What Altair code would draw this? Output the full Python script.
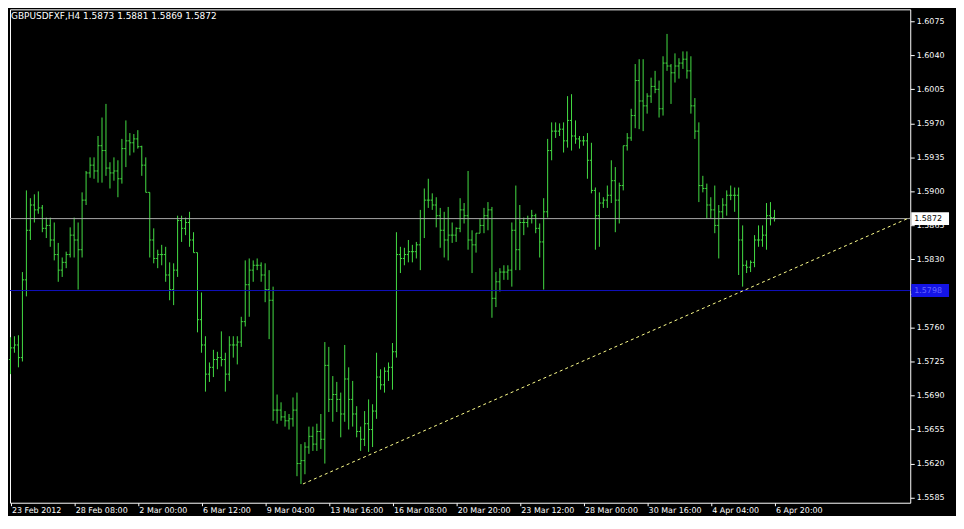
import altair as alt
import pandas as pd

symbol_title = "GBPUSDFXF,H4  1.5873 1.5881 1.5869 1.5872"
date_labels = ["23 Feb 2012", "28 Feb 08:00", "2 Mar 00:00", "6 Mar 12:00", "9 Mar 04:00",
               "13 Mar 16:00", "16 Mar 08:00", "20 Mar 20:00", "23 Mar 12:00", "28 Mar 00:00",
               "30 Mar 16:00", "4 Apr 04:00", "6 Apr 20:00"]
label_bars = [0, 16, 32, 48, 64, 80, 96, 112, 128, 144, 160, 176, 192]
price_ticks = [1.5585, 1.5620, 1.5655, 1.5690, 1.5725, 1.5760, 1.5795, 1.5830, 1.5865,
               1.5900, 1.5935, 1.5970, 1.6005, 1.6040, 1.6075]

open_ = [1.5727, 1.5739, 1.5742, 1.5729, 1.5809, 1.5860, 1.5886, 1.5881, 1.5883, 1.5862,
         1.5865, 1.5850, 1.5835, 1.5819, 1.5827, 1.5835, 1.5855, 1.5850, 1.5840, 1.5891,
         1.5919, 1.5927, 1.5921, 1.5947, 1.5942, 1.5924, 1.5919, 1.5921, 1.5913, 1.5944,
         1.5952, 1.5950, 1.5954, 1.5946, 1.5927, 1.5899, 1.5850, 1.5831, 1.5835, 1.5835,
         1.5814, 1.5799, 1.5819, 1.5870, 1.5862, 1.5868, 1.5850, 1.5837, 1.5768, 1.5742,
         1.5712, 1.5719, 1.5727, 1.5729, 1.5727, 1.5712, 1.5742, 1.5742, 1.5745, 1.5766,
         1.5804, 1.5819, 1.5824, 1.5824, 1.5814, 1.5799, 1.5788, 1.5675, 1.5675, 1.5668,
         1.5664, 1.5666, 1.5675, 1.5620, 1.5623, 1.5637, 1.5648, 1.5640, 1.5653, 1.5645,
         1.5721, 1.5686, 1.5691, 1.5686, 1.5671, 1.5707, 1.5686, 1.5671, 1.5653, 1.5645,
         1.5661, 1.5655, 1.5674, 1.5709, 1.5701, 1.5715, 1.5719, 1.5735, 1.5835, 1.5831,
         1.5835, 1.5838, 1.5838, 1.5845, 1.5872, 1.5891, 1.5891, 1.5886, 1.5875, 1.5860,
         1.5850, 1.5855, 1.5855, 1.5862, 1.5881, 1.5875, 1.5850, 1.5845, 1.5857, 1.5865,
         1.5875, 1.5881, 1.5790, 1.5807, 1.5817, 1.5817, 1.5819, 1.5860, 1.5840, 1.5868,
         1.5868, 1.5872, 1.5875, 1.5862, 1.5848, 1.5879, 1.5942, 1.5962, 1.5962, 1.5964,
         1.5952, 1.5973, 1.5957, 1.5954, 1.5952, 1.5952, 1.5932, 1.5901, 1.5875, 1.5888,
         1.5891, 1.5896, 1.5911, 1.5891, 1.5906, 1.5947, 1.5955, 1.5978, 1.6014, 1.5993,
         1.5988, 1.5998, 1.6008, 1.6005, 1.5985, 1.6032, 1.6029, 1.6022, 1.6029, 1.6032,
         1.6036, 1.6024, 1.5988, 1.5962, 1.5906, 1.5903, 1.5886, 1.5881, 1.5865, 1.5879,
         1.5886, 1.5896, 1.5896, 1.5896, 1.5850, 1.5824, 1.5822, 1.5827, 1.5850, 1.5850,
         1.5855, 1.5875, 1.5873]

high = [1.5750, 1.5751, 1.5752, 1.5817, 1.5901, 1.5893, 1.5897, 1.5900, 1.5886, 1.5873,
        1.5873, 1.5868, 1.5847, 1.5832, 1.5838, 1.5863, 1.5873, 1.5868, 1.5899, 1.5921,
        1.5935, 1.5935, 1.5957, 1.5976, 1.5990, 1.5930, 1.5935, 1.5932, 1.5954, 1.5973,
        1.5960, 1.5959, 1.5963, 1.5947, 1.5935, 1.5899, 1.5862, 1.5840, 1.5845, 1.5843,
        1.5827, 1.5826, 1.5875, 1.5875, 1.5873, 1.5879, 1.5858, 1.5837, 1.5796, 1.5751,
        1.5724, 1.5737, 1.5735, 1.5756, 1.5734, 1.5751, 1.5751, 1.5751, 1.5771, 1.5829,
        1.5831, 1.5829, 1.5831, 1.5827, 1.5826, 1.5819, 1.5802, 1.5691, 1.5683, 1.5674,
        1.5671, 1.5688, 1.5693, 1.5640, 1.5642, 1.5658, 1.5658, 1.5661, 1.5671, 1.5745,
        1.5740, 1.5710, 1.5704, 1.5693, 1.5742, 1.5719, 1.5705, 1.5679, 1.5658, 1.5674,
        1.5686, 1.5681, 1.5734, 1.5717, 1.5719, 1.5724, 1.5744, 1.5858, 1.5843, 1.5842,
        1.5850, 1.5845, 1.5848, 1.5881, 1.5903, 1.5913, 1.5898, 1.5894, 1.5883, 1.5879,
        1.5884, 1.5868, 1.5863, 1.5893, 1.5888, 1.5921, 1.5860, 1.5857, 1.5872, 1.5883,
        1.5889, 1.5884, 1.5817, 1.5821, 1.5824, 1.5824, 1.5868, 1.5906, 1.5886, 1.5873,
        1.5875, 1.5881, 1.5877, 1.5867, 1.5893, 1.5954, 1.5971, 1.5971, 1.5970, 1.5971,
        1.5998, 1.6000, 1.5973, 1.5957, 1.5957, 1.5960, 1.5950, 1.5904, 1.5899, 1.5894,
        1.5906, 1.5932, 1.5925, 1.5909, 1.5947, 1.5960, 1.5985, 1.6031, 1.6036, 1.6036,
        1.6001, 1.6017, 1.6024, 1.6014, 1.6039, 1.6062, 1.6031, 1.6042, 1.6037, 1.6044,
        1.6044, 1.6039, 1.5996, 1.5971, 1.5916, 1.5908, 1.5894, 1.5906, 1.5886, 1.5893,
        1.5901, 1.5906, 1.5904, 1.5904, 1.5865, 1.5829, 1.5829, 1.5855, 1.5865, 1.5865,
        1.5888, 1.5889, 1.5881]

low = [1.5712, 1.5734, 1.5719, 1.5725, 1.5792, 1.5850, 1.5868, 1.5877, 1.5858, 1.5852,
       1.5843, 1.5829, 1.5807, 1.5812, 1.5821, 1.5832, 1.5832, 1.5799, 1.5832, 1.5886,
       1.5914, 1.5913, 1.5909, 1.5909, 1.5916, 1.5903, 1.5911, 1.5894, 1.5908, 1.5925,
       1.5937, 1.5940, 1.5944, 1.5916, 1.5899, 1.5832, 1.5826, 1.5821, 1.5824, 1.5807,
       1.5788, 1.5783, 1.5812, 1.5848, 1.5855, 1.5843, 1.5837, 1.5755, 1.5734, 1.5694,
       1.5704, 1.5709, 1.5717, 1.5720, 1.5694, 1.5705, 1.5729, 1.5722, 1.5740, 1.5761,
       1.5771, 1.5807, 1.5819, 1.5807, 1.5786, 1.5748, 1.5664, 1.5661, 1.5664, 1.5658,
       1.5655, 1.5658, 1.5607, 1.5599, 1.5609, 1.5630, 1.5633, 1.5633, 1.5635, 1.5620,
       1.5673, 1.5663, 1.5673, 1.5647, 1.5663, 1.5655, 1.5658, 1.5647, 1.5633, 1.5638,
       1.5632, 1.5637, 1.5666, 1.5696, 1.5693, 1.5705, 1.5696, 1.5729, 1.5816, 1.5824,
       1.5827, 1.5827, 1.5831, 1.5819, 1.5852, 1.5883, 1.5881, 1.5863, 1.5842, 1.5832,
       1.5829, 1.5847, 1.5848, 1.5858, 1.5867, 1.5840, 1.5816, 1.5837, 1.5857, 1.5857,
       1.5860, 1.5770, 1.5781, 1.5797, 1.5809, 1.5809, 1.5802, 1.5819, 1.5819, 1.5855,
       1.5863, 1.5867, 1.5857, 1.5832, 1.5799, 1.5873, 1.5932, 1.5955, 1.5957, 1.5940,
       1.5945, 1.5942, 1.5949, 1.5944, 1.5947, 1.5913, 1.5898, 1.5840, 1.5843, 1.5883,
       1.5883, 1.5888, 1.5858, 1.5867, 1.5901, 1.5942, 1.5952, 1.5965, 1.5964, 1.5962,
       1.5980, 1.5991, 1.6001, 1.5976, 1.5978, 1.6024, 1.5990, 1.6012, 1.6016, 1.6026,
       1.6016, 1.5980, 1.5954, 1.5889, 1.5899, 1.5872, 1.5872, 1.5857, 1.5831, 1.5872,
       1.5875, 1.5891, 1.5879, 1.5814, 1.5802, 1.5816, 1.5817, 1.5822, 1.5843, 1.5843,
       1.5840, 1.5865, 1.5869]

close = [1.5739, 1.5742, 1.5729, 1.5809, 1.5860, 1.5886, 1.5881, 1.5883, 1.5862, 1.5865,
         1.5850, 1.5835, 1.5819, 1.5827, 1.5835, 1.5855, 1.5850, 1.5840, 1.5891, 1.5919,
         1.5927, 1.5921, 1.5947, 1.5942, 1.5924, 1.5919, 1.5921, 1.5913, 1.5944, 1.5952,
         1.5950, 1.5954, 1.5946, 1.5927, 1.5899, 1.5850, 1.5831, 1.5835, 1.5835, 1.5814,
         1.5799, 1.5819, 1.5870, 1.5862, 1.5868, 1.5850, 1.5837, 1.5768, 1.5742, 1.5712,
         1.5719, 1.5727, 1.5729, 1.5727, 1.5712, 1.5742, 1.5742, 1.5745, 1.5766, 1.5804,
         1.5819, 1.5824, 1.5824, 1.5814, 1.5799, 1.5788, 1.5675, 1.5675, 1.5668, 1.5664,
         1.5666, 1.5675, 1.5620, 1.5623, 1.5637, 1.5648, 1.5640, 1.5653, 1.5645, 1.5721,
         1.5686, 1.5691, 1.5686, 1.5671, 1.5707, 1.5686, 1.5671, 1.5653, 1.5645, 1.5661,
         1.5655, 1.5674, 1.5709, 1.5701, 1.5715, 1.5719, 1.5735, 1.5835, 1.5831, 1.5835,
         1.5838, 1.5838, 1.5845, 1.5872, 1.5891, 1.5891, 1.5886, 1.5875, 1.5860, 1.5850,
         1.5855, 1.5855, 1.5862, 1.5881, 1.5875, 1.5850, 1.5845, 1.5857, 1.5865, 1.5875,
         1.5881, 1.5790, 1.5807, 1.5817, 1.5817, 1.5819, 1.5860, 1.5840, 1.5868, 1.5868,
         1.5872, 1.5875, 1.5862, 1.5848, 1.5879, 1.5942, 1.5962, 1.5962, 1.5964, 1.5952,
         1.5973, 1.5957, 1.5954, 1.5952, 1.5952, 1.5932, 1.5901, 1.5875, 1.5888, 1.5891,
         1.5896, 1.5911, 1.5891, 1.5906, 1.5947, 1.5955, 1.5978, 1.6014, 1.5993, 1.5988,
         1.5998, 1.6008, 1.6005, 1.5985, 1.6032, 1.6029, 1.6022, 1.6029, 1.6032, 1.6036,
         1.6024, 1.5988, 1.5962, 1.5906, 1.5903, 1.5886, 1.5881, 1.5865, 1.5879, 1.5886,
         1.5896, 1.5896, 1.5896, 1.5850, 1.5824, 1.5822, 1.5827, 1.5850, 1.5850, 1.5855,
         1.5875, 1.5873, 1.5872]

current_price = 1.5872
support_price = 1.5798
trend_bars = [73.5, 226.0]
trend_prices = [1.5599, 1.5873]

GREEN = "#44dd44"
FONT = "DejaVu Sans"

df = pd.DataFrame({"bar": list(range(len(open_))), "open": open_, "high": high,
                   "low": low, "close": close})

x_scale = alt.Scale(domain=[-0.125, 226.125], nice=False, zero=False)
y_scale = alt.Scale(domain=[1.55797, 1.60873], nice=False, zero=False)

label_js = "[" + ",".join("'" + s + "'" for s in date_labels) + "]"
x_axis = alt.Axis(values=label_bars, labelExpr=label_js + "[round(datum.value / 16)]",
                  title=None, grid=False, domain=False, tickColor="white", tickSize=3,
                  labelColor="white", labelFont=FONT, labelFontSize=8, labelAlign="left",
                  labelPadding=1, labelOffset=1, labelOverlap=False, labelFlush=False)
y_axis = alt.Axis(values=price_ticks, format=".4f", orient="right", title=None, grid=False,
                  domain=False, tickColor="white", tickSize=4, labelColor="white",
                  labelFont=FONT, labelFontSize=8, labelPadding=2, labelOverlap=False,
                  labelFlush=False)

base = alt.Chart(df)

hl = base.mark_rule(color=GREEN, strokeWidth=1).encode(
    x=alt.X("bar:Q", scale=x_scale, axis=x_axis),
    y=alt.Y("low:Q", scale=y_scale, axis=y_axis),
    y2="high:Q",
)
open_tick = base.transform_calculate(bl="datum.bar - 0.4").mark_rule(
    color=GREEN, strokeWidth=1).encode(
    x=alt.X("bl:Q", scale=x_scale, axis=x_axis), x2="bar:Q",
    y=alt.Y("open:Q", scale=y_scale, axis=y_axis),
)
close_tick = base.transform_calculate(br="datum.bar + 0.4").mark_rule(
    color=GREEN, strokeWidth=1).encode(
    x=alt.X("bar:Q", scale=x_scale, axis=x_axis), x2="br:Q",
    y=alt.Y("close:Q", scale=y_scale, axis=y_axis),
)

levels = pd.DataFrame({"p": [current_price, support_price],
                       "kind": ["current", "support"],
                       "txt": [f"{current_price:.4f}", f"{support_price:.4f}"]})

cur_line = alt.Chart(levels).transform_filter("datum.kind == 'current'").mark_rule(
    color="#a8a8a8", strokeWidth=1).encode(y=alt.Y("p:Q", scale=y_scale, axis=y_axis))
sup_line = alt.Chart(levels).transform_filter("datum.kind == 'support'").mark_rule(
    color="#1010c0", strokeWidth=1).encode(y=alt.Y("p:Q", scale=y_scale, axis=y_axis))

trend_df = pd.DataFrame({"bar": trend_bars, "price": trend_prices})
trend = alt.Chart(trend_df).mark_line(color="#ffff8c", strokeWidth=1, strokeDash=[3, 3],
                                      clip=True).encode(
    x=alt.X("bar:Q", scale=x_scale, axis=x_axis),
    y=alt.Y("price:Q", scale=y_scale, axis=y_axis),
)

cur_box = alt.Chart(levels).transform_filter("datum.kind == 'current'").mark_rule(
    color="white", strokeWidth=13, clip=False).encode(
    x=alt.value(906), x2=alt.value(944), y=alt.Y("p:Q", scale=y_scale, axis=y_axis))
cur_txt = alt.Chart(levels).transform_filter("datum.kind == 'current'").mark_text(
    color="black", font=FONT, fontSize=8, align="left", baseline="middle", clip=False).encode(
    x=alt.value(909), y=alt.Y("p:Q", scale=y_scale, axis=y_axis), text="txt:N")
sup_box = alt.Chart(levels).transform_filter("datum.kind == 'support'").mark_rule(
    color="#1414e6", strokeWidth=13, clip=False).encode(
    x=alt.value(906), x2=alt.value(944), y=alt.Y("p:Q", scale=y_scale, axis=y_axis))
sup_txt = alt.Chart(levels).transform_filter("datum.kind == 'support'").mark_text(
    color="#6a6aff", font=FONT, fontSize=8, align="left", baseline="middle", clip=False).encode(
    x=alt.value(909), y=alt.Y("p:Q", scale=y_scale, axis=y_axis), text="txt:N")

title_df = pd.DataFrame({"t": [symbol_title]})
title_txt = alt.Chart(title_df).mark_text(
    color="white", font=FONT, fontSize=9, align="left", baseline="middle", clip=False).encode(
    x=alt.value(1), y=alt.value(7), text="t:N")

chart = alt.layer(
    hl, open_tick, close_tick, cur_line, sup_line, trend,
    cur_box, cur_txt, sup_box, sup_txt, title_txt,
).properties(
    width=905, height=496, padding=0, background="black",
).configure_view(
    stroke="white", strokeWidth=1, fill="black",
)

chart.save("out.html", embed_options={"renderer": "svg", "actions": False})
